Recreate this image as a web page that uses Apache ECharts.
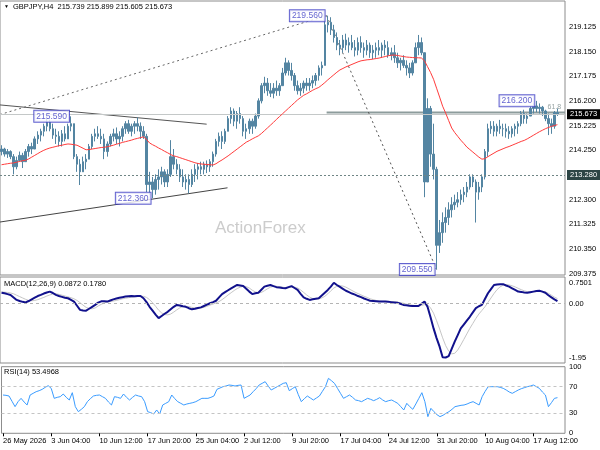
<!DOCTYPE html>
<html>
<head>
<meta charset="utf-8">
<script src="https://cdn.jsdelivr.net/npm/echarts@6/dist/echarts.min.js"></script>
<style>
html,body{margin:0;padding:0;background:#fff}
#main{width:600px;height:450px}
</style>
</head>
<body>
<div id="main"></div>
<script>
// GBPJPY H4, one point per two H4 bars
var highs = [214.45,214.35,214.30,214.25,214.10,214.00,214.20,214.15,214.30,214.50,
214.55,214.80,215.00,215.10,215.30,215.50,215.45,215.30,215.10,215.00,
215.05,215.20,215.30,215.59,215.30,214.10,213.90,214.00,214.10,214.50,
214.90,215.10,215.20,215.10,214.90,214.60,214.90,215.10,215.15,215.00,
215.20,215.40,215.45,215.30,215.40,215.55,215.35,215.20,214.90,213.40,
213.20,213.30,213.50,213.60,213.50,213.50,214.65,214.30,213.90,213.70,
213.50,213.30,213.30,213.50,213.70,213.75,213.80,213.80,213.85,213.90,
214.20,214.70,214.95,215.00,215.10,215.60,215.95,215.90,215.80,215.95,
215.60,215.30,215.50,215.50,215.70,216.30,216.90,217.15,217.10,216.90,
216.90,217.00,216.90,217.50,217.90,217.80,217.70,217.30,217.00,216.90,
217.00,217.10,217.10,217.20,217.30,217.60,217.75,219.40,219.56,219.50,
219.20,218.90,218.60,218.80,218.85,218.70,218.80,218.60,218.70,218.75,
218.50,218.60,218.50,218.40,218.50,218.60,218.50,218.60,218.55,218.30,
218.40,218.10,217.90,218.00,217.80,217.70,217.80,218.50,218.80,218.70,
218.10,216.30,216.00,215.30,213.60,211.50,211.80,212.00,212.20,212.40,
212.50,212.60,212.70,212.80,213.00,213.30,213.30,213.10,213.00,213.30,
214.30,215.30,215.40,215.40,215.30,215.45,215.30,215.30,215.20,215.20,
215.30,215.40,215.80,215.85,215.70,216.00,216.10,216.20,216.10,216.00,
215.85,215.70,215.50,215.80,215.899];
var lows = [214.05,214.00,213.95,213.90,213.30,213.50,213.80,213.55,213.80,214.00,
214.10,214.30,214.50,214.60,214.80,215.00,215.00,214.70,214.50,214.40,
214.40,214.60,214.70,215.00,213.90,213.40,212.88,213.40,213.50,213.90,
214.30,214.60,214.70,214.50,213.90,214.00,214.40,214.60,214.50,214.40,
214.60,214.90,214.90,214.80,214.90,215.00,214.70,214.70,212.60,212.50,
212.36,212.50,212.70,212.90,212.80,212.80,213.20,213.50,213.30,213.00,
212.80,212.70,212.55,212.80,213.00,213.10,213.30,213.30,213.35,213.40,
213.60,214.00,214.40,214.30,214.50,215.00,215.30,215.20,215.10,215.30,
214.80,214.70,214.90,214.90,215.10,215.50,216.10,216.50,216.40,216.35,
216.30,216.40,216.40,216.80,217.20,217.20,217.00,216.60,216.45,216.40,
216.50,216.60,216.60,216.70,216.80,217.00,217.20,217.60,218.90,218.80,
218.50,218.20,218.00,218.10,218.20,218.10,218.20,217.95,218.00,218.10,
217.90,218.00,217.90,217.85,217.90,218.00,217.90,218.00,217.90,217.80,
217.70,217.50,217.40,217.50,217.20,217.10,217.20,217.70,218.00,218.00,
212.40,213.20,213.60,213.10,209.55,210.20,210.60,211.00,211.30,211.60,
211.90,212.00,212.10,212.20,212.40,212.70,212.80,211.40,212.30,212.60,
213.10,214.00,214.90,214.80,214.80,214.90,214.80,214.75,214.70,214.75,
214.80,214.90,215.20,215.30,215.30,215.60,215.70,215.75,215.70,215.60,
215.40,214.85,214.90,215.10,215.605];
var closes = [214.30,214.10,214.20,214.00,213.60,213.85,214.05,213.80,214.20,214.40,
214.30,214.70,214.85,215.00,215.20,215.35,215.10,214.85,214.80,214.60,
214.90,214.70,215.20,215.30,214.00,213.70,213.40,213.80,213.90,214.40,
214.80,214.90,214.80,214.70,214.20,214.50,214.80,214.90,214.70,214.80,
215.10,215.30,215.00,215.20,215.30,215.20,215.00,214.80,212.90,213.00,
212.70,213.10,213.20,213.40,213.00,213.30,214.00,213.70,213.50,213.20,
213.00,213.10,212.90,213.30,213.50,213.60,213.50,213.70,213.60,213.80,
214.10,214.60,214.80,214.60,215.00,215.50,215.80,215.40,215.70,215.50,
215.00,215.10,215.40,215.20,215.60,216.20,216.80,216.90,216.60,216.50,
216.70,216.60,216.80,217.30,217.70,217.40,217.20,216.80,216.60,216.70,
216.90,216.80,216.90,217.00,217.20,217.50,217.60,219.20,219.30,219.00,
218.70,218.40,218.30,218.60,218.40,218.50,218.30,218.20,218.50,218.30,
218.20,218.40,218.10,218.20,218.30,218.20,218.40,218.30,218.00,218.10,
217.90,217.70,217.80,217.60,217.50,217.30,217.70,218.30,218.50,218.10,
213.00,215.90,214.10,213.50,210.50,211.00,211.40,211.60,211.90,212.10,
212.20,212.30,212.50,212.60,212.80,213.20,213.00,212.60,212.80,213.20,
214.20,215.10,215.20,215.00,215.20,215.10,215.10,215.00,214.90,215.10,
215.20,215.30,215.70,215.50,215.60,215.90,216.00,215.90,215.95,215.80,
215.50,215.30,215.20,215.739,215.673];
var firstOpen = 214.20;
var ma50 = [213.68,213.70,213.72,213.74,213.75,213.78,213.81,213.84,213.86,213.91,
213.98,214.05,214.12,214.19,214.25,214.30,214.34,214.37,214.40,214.43,
214.45,214.48,214.50,214.49,214.47,214.45,214.39,214.33,214.27,214.28,
214.30,214.32,214.34,214.36,214.37,214.39,214.42,214.45,214.49,214.52,
214.56,214.59,214.62,214.65,214.69,214.72,214.75,214.78,214.68,214.54,
214.47,214.41,214.34,214.28,214.21,214.15,214.08,214.03,214.00,213.96,
213.92,213.88,213.84,213.80,213.76,213.73,213.71,213.70,213.69,213.68,
213.67,213.72,213.80,213.87,213.95,214.03,214.12,214.21,214.30,214.39,
214.48,214.57,214.63,214.70,214.76,214.82,214.91,215.02,215.13,215.24,
215.35,215.47,215.58,215.69,215.80,215.91,216.02,216.13,216.24,216.33,
216.42,216.48,216.55,216.62,216.68,216.73,216.82,216.92,217.03,217.13,
217.23,217.33,217.42,217.48,217.54,217.59,217.64,217.69,217.74,217.78,
217.80,217.82,217.83,217.85,217.87,217.89,217.92,217.95,217.98,218.00,
218.01,217.99,217.97,217.95,217.93,217.92,217.91,217.90,217.90,217.89,
217.78,217.55,217.32,217.05,216.70,216.35,215.99,215.72,215.42,215.13,
214.95,214.80,214.65,214.52,214.38,214.28,214.18,214.08,213.98,213.90,
213.92,214.00,214.07,214.14,214.21,214.26,214.31,214.36,214.40,214.45,
214.50,214.55,214.60,214.64,214.70,214.77,214.84,214.91,214.98,215.04,
215.10,215.15,215.19,215.23,215.26];
var macdMain = [0.39,0.37,0.34,0.31,0.22,0.13,0.09,0.06,0.04,0.09,
0.15,0.21,0.27,0.31,0.36,0.40,0.43,0.38,0.31,0.27,
0.24,0.21,0.19,0.13,0.07,-0.08,-0.23,-0.25,-0.26,-0.19,
-0.12,-0.05,0.03,0.08,0.08,0.07,0.11,0.15,0.18,0.21,
0.23,0.25,0.26,0.27,0.26,0.27,0.27,0.19,0.05,-0.12,
-0.26,-0.40,-0.53,-0.45,-0.37,-0.30,-0.21,-0.12,-0.05,-0.07,
-0.10,-0.12,-0.17,-0.21,-0.19,-0.16,-0.14,-0.09,-0.04,0.01,
0.05,0.10,0.22,0.34,0.41,0.48,0.55,0.61,0.67,0.65,
0.63,0.53,0.43,0.34,0.37,0.39,0.50,0.61,0.64,0.67,
0.63,0.59,0.58,0.56,0.55,0.59,0.63,0.56,0.49,0.35,
0.22,0.17,0.13,0.15,0.17,0.19,0.29,0.39,0.49,0.61,
0.7501,0.67,0.60,0.53,0.46,0.41,0.36,0.32,0.27,0.23,
0.18,0.14,0.10,0.09,0.08,0.07,0.07,0.07,0.06,0.05,
0.04,0.03,-0.01,-0.05,-0.06,-0.08,-0.09,-0.09,-0.09,-0.01,
0.07,-0.12,-0.50,-0.90,-1.25,-1.56,-1.94,-1.95,-1.90,-1.64,
-1.38,-1.14,-0.90,-0.76,-0.62,-0.48,-0.32,-0.17,-0.10,-0.05,
0.16,0.37,0.52,0.67,0.69,0.70,0.70,0.65,0.61,0.55,
0.49,0.43,0.42,0.40,0.39,0.41,0.43,0.45,0.46,0.43,
0.39,0.30,0.22,0.15,0.0872];
var macdSignal = [0.42,0.41,0.40,0.38,0.35,0.30,0.25,0.20,0.15,0.11,
0.10,0.11,0.14,0.18,0.22,0.27,0.31,0.34,0.35,0.33,
0.30,0.27,0.24,0.21,0.17,0.11,0.03,-0.06,-0.14,-0.18,
-0.19,-0.16,-0.09,-0.03,0.02,0.05,0.07,0.09,0.11,0.14,
0.17,0.19,0.21,0.23,0.24,0.25,0.26,0.26,0.22,0.14,
0.03,-0.10,-0.24,-0.34,-0.40,-0.41,-0.38,-0.31,-0.23,-0.16,
-0.11,-0.10,-0.11,-0.14,-0.16,-0.17,-0.16,-0.14,-0.10,-0.06,
-0.02,0.02,0.07,0.14,0.22,0.31,0.39,0.47,0.54,0.59,
0.62,0.61,0.56,0.48,0.42,0.39,0.40,0.46,0.53,0.59,
0.62,0.62,0.61,0.59,0.57,0.57,0.59,0.59,0.56,0.49,
0.40,0.31,0.23,0.18,0.17,0.17,0.20,0.26,0.35,0.46,
0.56,0.62,0.64,0.63,0.59,0.53,0.47,0.41,0.36,0.31,
0.26,0.22,0.17,0.14,0.11,0.09,0.08,0.08,0.07,0.06,
0.06,0.05,0.03,0.01,-0.02,-0.04,-0.06,-0.08,-0.09,-0.07,
-0.04,-0.05,-0.16,-0.35,-0.62,-0.92,-1.24,-1.52,-1.72,-1.82,
-1.80,-1.68,-1.50,-1.30,-1.10,-0.90,-0.72,-0.54,-0.38,-0.25,
-0.12,0.04,0.20,0.36,0.50,0.60,0.66,0.68,0.67,0.64,
0.60,0.55,0.50,0.46,0.43,0.42,0.42,0.43,0.44,0.44,
0.42,0.37,0.30,0.23,0.1780];
var rsi14 = [57.5,57,56,48,40,47.5,52.5,47,42.5,57.5,
60,62.5,64,66,69,71.5,67.5,52.5,54,55,
59,54,50,61,40,32.5,36,40,47.5,52,
56,57,57.5,55,52.5,47,42.5,55,54,52.5,
59,54,50,54,57.5,56,55,47.5,32.5,31,
29,35,29,42.5,45,47.5,57.5,52,47.5,45,
42.5,44,45,46,47.5,50,52.5,52.5,52.5,54,
56,66,68,70,71,72.5,72,71,72,72.5,
52.5,55,57.5,62.5,67,72.5,75,77.5,71,65,
67.5,70,72.5,75,76,64,67,70,58,47.5,
52,56,53,50,53,56,63,70,82.5,79,
75,67.5,60,52.5,55,57.5,54,50,49,47.5,
50,52.5,51,49,51,53.5,50,47.5,49,50,
47.5,45,40,35,45,40,36,44,52.5,61,
47.5,25,37.5,32.5,28,25,27,30,32.5,36,
40,41,42,42.5,44,46,47.5,45,42.5,55,
63,70,70,70,70,69,67.5,65,62,60,
62.5,65,67,68.5,70,71,72.5,70,67.5,62,
57.5,40,46,52.5,53.4968];

var timeLabels = ['26 May 2026','3 Jun 04:00','10 Jun 12:00','17 Jun 20:00','25 Jun 04:00','2 Jul 12:00',
  '9 Jul 20:00','17 Jul 04:00','24 Jul 12:00','31 Jul 20:00','10 Aug 04:00','17 Aug 12:00'];
var labelStep = 16;
var slotCount = 187;

var priceTicks = [219.125,218.150,217.175,216.200,215.225,214.250,212.300,211.325,210.350,209.375];
var macdTicks = [0.7501,0,-1.95];
var rsiTicks = [100,70,30,0];
var rsiLevels = [70,30];
var bidPrice = 215.673;
var supportLevel = 213.280;
var fibPrice = 215.74;

// swing labels [index, price]
var swingPoints = [[23,215.59],[50,212.36],[107.6,219.56],[144,209.55],[177,216.2]];
// drawn lines [index, price]
var upperLine = [[-0.5,216.04],[67.9,215.28]];
var lowerLine = [[-0.5,211.42],[74.8,212.77]];
var riseLine = [[-0.5,215.66],[107.6,219.56]];
var fallLine = [[107.6,219.56],[144,209.55]];
var fibLine = [[107.6,fibPrice],[186.5,fibPrice]];
var fibTag = [[183,fibPrice]];

var cats = [];
for (var i = 0; i < slotCount; i++) cats.push('b' + i);
var candles = [];
for (var i = 0; i < closes.length; i++) {
  var o = i === 0 ? firstOpen : closes[i - 1];
  candles.push([o, closes[i], lows[i], highs[i]]);
}

var FONT = 'Liberation Sans';
var barColor = '#5485a2';
var labelBlue = '#3b3bc4';

function showLabel(idx) { return idx % labelStep === 0 && idx / labelStep < timeLabels.length; }

var catAxis = function (grid, labels) {
  return {
    type: 'category', gridIndex: grid, data: cats, boundaryGap: true,
    axisLine: {show: false},
    axisTick: labels ? {show: true, interval: function (i) { return showLabel(i); }, length: 3, alignWithLabel: true, lineStyle: {color: '#000'}} : {show: false},
    axisLabel: labels ? {
      show: true, interval: function (i) { return showLabel(i); },
      formatter: function (v, i) { return timeLabels[i / labelStep]; },
      align: 'left', fontSize: 7.5, fontFamily: FONT, color: '#000', margin: 4
    } : {show: false},
    splitLine: {show: false}
  };
};

var valAxis = function (grid, min, max, ticks, fmt) {
  return {
    type: 'value', gridIndex: grid, position: 'right', min: min, max: max, scale: true,
    axisLine: {show: false},
    splitLine: {show: false},
    axisTick: {show: false},
    axisLabel: {show: true, customValues: ticks, formatter: fmt, fontSize: 7.5, fontFamily: FONT, color: '#000', margin: 4}
  };
};

function seg(data, style) {
  return {
    type: 'line', xAxisIndex: 1, yAxisIndex: 0, data: data, symbol: 'none',
    lineStyle: style, silent: true, z: 3
  };
}

var chart = echarts.init(document.getElementById('main'));
chart.setOption({
  animation: false,
  backgroundColor: '#fff',
  grid: [
    {left: 0, top: 1, width: 565, height: 274, show: true, borderColor: '#8c8c8c', borderWidth: 1},
    {left: 0, top: 277, width: 565, height: 86, show: true, borderColor: '#8c8c8c', borderWidth: 1},
    {left: 0, top: 366.7, width: 565, height: 66.6, show: true, borderColor: '#8c8c8c', borderWidth: 1}
  ],
  xAxis: [
    catAxis(0, false),
    {type: 'value', gridIndex: 0, min: -0.5, max: slotCount - 0.5, show: false},
    catAxis(1, false),
    catAxis(2, true)
  ],
  yAxis: [
    valAxis(0, 209.33, 220.14, priceTicks, function (v) { return v.toFixed(3); }),
    valAxis(1, -2.15, 0.958, macdTicks, function (v) { return v === 0 ? '0.00' : String(v); }),
    valAxis(2, 0, 100, rsiTicks, function (v) { return String(v); })
  ],
  graphic: [
    {type: 'text', left: 4, top: 4, style: {text: '\u25BC', fontSize: 5, fill: '#000'}},
    {type: 'text', left: 13, top: 3, style: {text: 'GBPJPY,H4  215.739 215.899 215.605 215.673', fontSize: 7.5, fontFamily: FONT, fill: '#000'}},
    {type: 'text', left: 215, top: 220, z: 0, style: {text: 'ActionForex', fontSize: 17, fontFamily: FONT, fill: '#cccccc'}},
    {type: 'text', left: 4, top: 280, style: {text: 'MACD(12,26,9) 0.0872 0.1780', fontSize: 7.5, fontFamily: FONT, fill: '#000'}},
    {type: 'text', left: 4, top: 368, style: {text: 'RSI(14) 53.4968', fontSize: 7.5, fontFamily: FONT, fill: '#000'}}
  ],
  series: [
    {
      type: 'candlestick', xAxisIndex: 0, yAxisIndex: 0, data: candles, barWidth: 2, z: 4,
      itemStyle: {color: barColor, color0: barColor, borderColor: barColor, borderColor0: barColor, borderWidth: 1},
      markLine: {
        silent: true, symbol: 'none', animation: false,
        data: [
          {yAxis: bidPrice, lineStyle: {color: '#c4c8c8', width: 1, type: 'solid'},
           label: {show: true, position: 'end', distance: 2, formatter: bidPrice.toFixed(3), backgroundColor: '#000', color: '#fff',
                   fontSize: 7.5, fontFamily: FONT, padding: [1, 3]}},
          {yAxis: supportLevel, lineStyle: {color: '#6f8585', width: 1, type: [2, 2]},
           label: {show: true, position: 'end', distance: 2, formatter: supportLevel.toFixed(3), backgroundColor: '#2d4545', color: '#fff',
                   fontSize: 7.5, fontFamily: FONT, padding: [1, 3]}}
        ]
      }
    },
    seg(fibLine, {color: '#8d9c9c', width: 2}),
    seg(upperLine, {color: '#555', width: 1}),
    seg(lowerLine, {color: '#444', width: 1}),
    seg(riseLine, {color: '#666', width: 1, type: [2, 3]}),
    seg(fallLine, {color: '#555', width: 1, type: [2, 3]}),
    {
      type: 'line', xAxisIndex: 0, yAxisIndex: 0, data: ma50, symbol: 'none', z: 5,
      lineStyle: {color: '#ff3b3b', width: 1}
    },
    {
      type: 'scatter', xAxisIndex: 1, yAxisIndex: 0, data: swingPoints, symbolSize: 2, z: 6,
      itemStyle: {color: 'rgba(0,0,0,0)'},
      label: {
        show: true, position: 'left', distance: 1,
        formatter: function (p) { return p.value[1].toFixed(3); },
        color: labelBlue, fontSize: 8.5, fontFamily: FONT,
        backgroundColor: '#fff', borderColor: labelBlue, borderWidth: 1, padding: [1, 2]
      }
    },
    {
      type: 'scatter', xAxisIndex: 1, yAxisIndex: 0, data: fibTag, symbolSize: 2, z: 6,
      itemStyle: {color: 'rgba(0,0,0,0)'},
      label: {show: true, position: 'top', distance: 1, formatter: '61.8', color: '#7a8a8a', fontSize: 7, fontFamily: FONT}
    },
    {
      type: 'line', xAxisIndex: 2, yAxisIndex: 1, data: macdSignal, symbol: 'none', z: 3,
      lineStyle: {color: '#c6c6c6', width: 1},
      markLine: {
        silent: true, symbol: 'none', label: {show: false},
        data: [{yAxis: 0}], lineStyle: {color: '#b4b4b4', width: 1, type: [3, 3]}
      }
    },
    {
      type: 'line', xAxisIndex: 2, yAxisIndex: 1, data: macdMain, symbol: 'none', z: 4,
      lineStyle: {color: '#11118c', width: 2}
    },
    {
      type: 'line', xAxisIndex: 3, yAxisIndex: 2, data: rsi14, symbol: 'none', z: 4,
      lineStyle: {color: '#3a9cff', width: 1},
      markLine: {
        silent: true, symbol: 'none', label: {show: false},
        data: rsiLevels.map(function (v) { return {yAxis: v}; }),
        lineStyle: {color: '#c4c4c4', width: 1, type: [3, 3]}
      }
    }
  ]
});
</script>
</body>
</html>
